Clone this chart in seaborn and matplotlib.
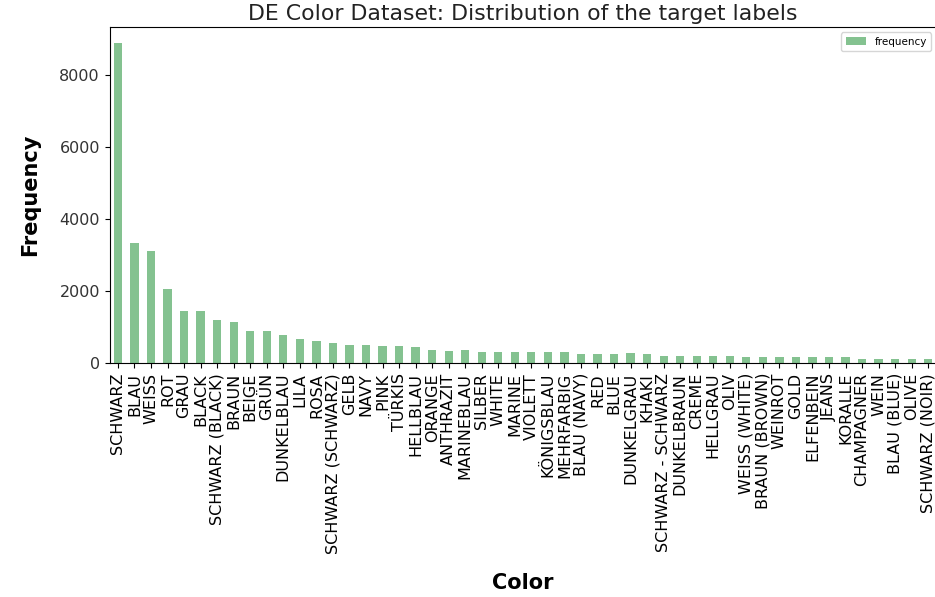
import pandas as pd
import matplotlib
matplotlib.use("Agg")
import matplotlib.pyplot as plt
import seaborn as sns
from matplotlib.patches import Patch

# ------------------ Data ------------------
colors = [
    "SCHWARZ", "BLAU", "WEISS", "ROT", "GRAU", "BLACK", "SCHWARZ (BLACK)",
    "BRAUN", "BEIGE", "GRÜN", "DUNKELBLAU", "LILA", "ROSA",
    "SCHWARZ (SCHWARZ)", "GELB", "NAVY", "PINK", "TÜRKIS", "HELLBLAU",
    "ORANGE", "ANTHRAZIT", "MARINEBLAU", "SILBER", "WHITE", "MARINE",
    "VIOLETT", "KÖNIGSBLAU", "MEHRFARBIG", "BLAU (NAVY)", "RED", "BLUE",
    "DUNKELGRAU", "KHAKI", "SCHWARZ - SCHWARZ", "DUNKELBRAUN", "CREME",
    "HELLGRAU", "OLIV", "WEISS (WHITE)", "BRAUN (BROWN)", "WEINROT", "GOLD",
    "ELFENBEIN", "JEANS", "KORALLE", "CHAMPAGNER", "WEIN", "BLAU (BLUE)",
    "OLIVE", "SCHWARZ (NOIR)",
]
frequency = [
    8880, 3330, 3120, 2065, 1450, 1450, 1200, 1145, 895, 890, 795, 665, 625,
    555, 500, 498, 472, 475, 445, 380, 352, 355, 315, 305, 305,
    303, 300, 300, 270, 268, 265, 277, 258, 205, 203, 200,
    200, 198, 168, 166, 170, 170, 169, 170, 168, 132, 130, 130,
    130, 128,
]

df = pd.DataFrame({"color": colors, "frequency": frequency})
bar_color = "#84c290"

# ------------------ Plot ------------------
fig = plt.figure(figsize=(9.35, 5.97), dpi=100)
ax = fig.add_axes([0.1173, 0.3915, 0.8843, 0.5628])

sns.barplot(data=df, x="color", y="frequency", color=bar_color,
            width=0.5, saturation=1, ax=ax)

ax.set_xlim(-0.5, len(colors) - 0.5)
ax.set_ylim(0, max(frequency) * 1.05)
ax.set_yticks([0, 2000, 4000, 6000, 8000])
ax.tick_params(axis="y", labelsize=11.5, labelcolor="#333333")
ax.tick_params(axis="x", labelsize=11.5, rotation=90)

ax.set_title("DE Color Dataset: Distribution of the target labels",
             fontsize=15.8, color="#222222", pad=5)
ax.set_xlabel("Color", fontsize=15, fontweight="bold", labelpad=14)
ax.set_ylabel("Frequency", fontsize=15, fontweight="bold", labelpad=14)

ax.legend(handles=[Patch(facecolor=bar_color)], labels=["frequency"],
          loc="upper right", fontsize=7.5)

fig.savefig("out.png", dpi=100)
